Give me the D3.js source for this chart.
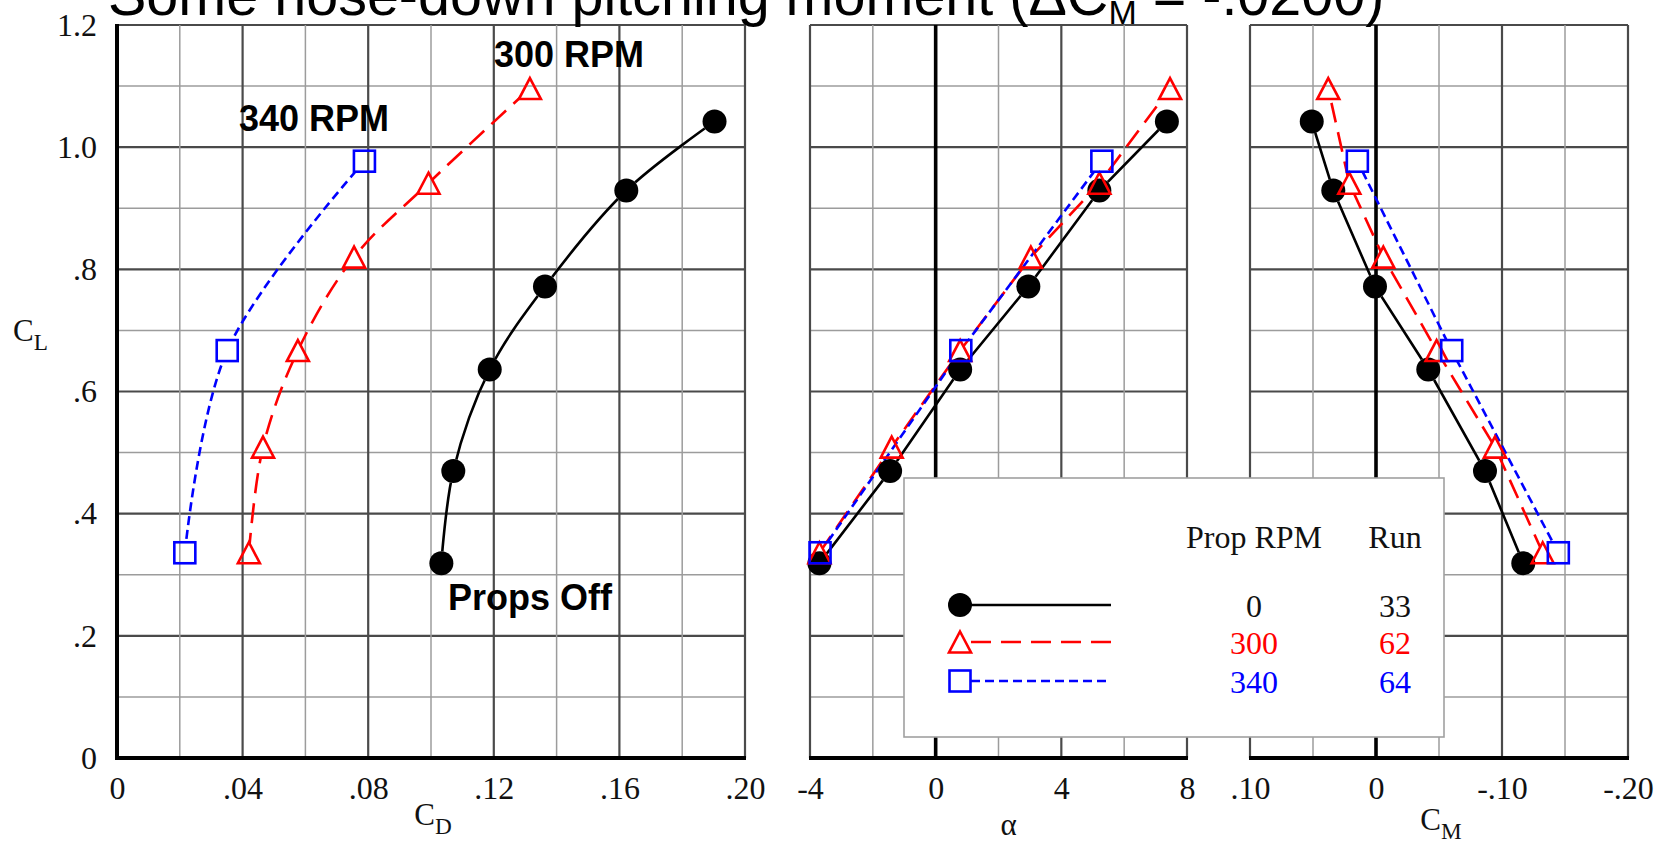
<!DOCTYPE html>
<html>
<head>
<meta charset="utf-8">
<script src="https://cdn.jsdelivr.net/npm/d3@7"></script>
<style>
body { margin: 0; background: #fff; }
svg { display: block; }
</style>
</head>
<body>
<svg id="chart" width="1657" height="843"></svg>
<script>
// DATA
// Props off, run 33
var CL_0    = [0.319, 0.470, 0.636, 0.772, 0.929, 1.042];
var CD_0    = [0.1033, 0.1071, 0.1187, 0.1363, 0.1622, 0.1903];
var ALPHA_0 = [-3.70, -1.45, 0.78, 2.95, 5.21, 7.36];
var CM_0    = [-0.1169, -0.0865, -0.0415, 0.0008, 0.0339, 0.0510];

// 300 RPM, run 62
var CL_300    = [0.336, 0.509, 0.667, 0.820, 0.941, 1.096];
var CD_300    = [0.0420, 0.0465, 0.0576, 0.0755, 0.0992, 0.1315];
var ALPHA_300 = [-3.70, -1.40, 0.78, 3.03, 5.21, 7.46];
var CM_300    = [-0.1323, -0.0944, -0.0481, -0.0058, 0.0212, 0.0379];

// 340 RPM, run 64
var CL_340    = [0.336, 0.667, 0.977];
var CD_340    = [0.0216, 0.0351, 0.0788];
var ALPHA_340 = [-3.68, 0.80, 5.29];
var CM_340    = [-0.1447, -0.0601, 0.0148];

var RPM_LABELS = ["0", "300", "340"];
var RUN_LABELS = ["33", "62", "64"];

// tick labels
var CL_TICKS = [0, 0.2, 0.4, 0.6, 0.8, 1.0, 1.2];
var CL_TICK_LABELS = ["0", ".2", ".4", ".6", ".8", "1.0", "1.2"];
var CD_TICKS = [0, 0.04, 0.08, 0.12, 0.16, 0.20];
var CD_TICK_LABELS = ["0", ".04", ".08", ".12", ".16", ".20"];
var ALPHA_TICKS = [-4, 0, 4, 8];
var ALPHA_TICK_LABELS = ["-4", "0", "4", "8"];
var CM_TICKS = [0.10, 0, -0.10, -0.20];
var CM_TICK_LABELS = [".10", "0", "-.10", "-.20"];


// CONSTANTS
var W = 1657;
var H = 843;
var SERIF = "'Liberation Serif', 'Times New Roman', serif";
var SANS = "'Liberation Sans', Arial, sans-serif";
var RED = "#ff0000";
var BLUE = "#0000ff";
var MINOR = "#9c9c9c";
var MAJOR = "#4a4a4a";
var LINE_W = 2.6;


// scales
var y = d3.scaleLinear().domain([0, 1.2]).range([758, 25]);
var xCD = d3.scaleLinear().domain([0, 0.2]).range([117, 745]);
var xA = d3.scaleLinear().domain([-4, 8]).range([810, 1187]);
var xCM = d3.scaleLinear().domain([0.1, -0.2]).range([1250, 1628]);

var SERIES = [
    {color: "#000", marker: "circle", dash: null, cl: CL_0, cd: CD_0, alpha: ALPHA_0, cm: CM_0},
    {color: RED, marker: "triangle", dash: "20,10", cl: CL_300, cd: CD_300, alpha: ALPHA_300, cm: CM_300},
    {color: BLUE, marker: "square", dash: "9,5", cl: CL_340, cd: CD_340, alpha: ALPHA_340, cm: CM_340},
];

var PANELS = [
    {key: "cd", x: xCD, step: 0.02, major: 2, zero: false, curve: d3.curveCatmullRom.alpha(0.5),
        ticks: CD_TICKS, labels: CD_TICK_LABELS},
    {key: "alpha", x: xA, step: 2, major: 2, zero: true, curve: d3.curveLinear,
        ticks: ALPHA_TICKS, labels: ALPHA_TICK_LABELS},
    {key: "cm", x: xCM, step: 0.05, major: 2, zero: true, curve: d3.curveLinear,
        ticks: CM_TICKS, labels: CM_TICK_LABELS},
];


var svg = d3.select("#chart");
svg.append("rect").attr("width", W).attr("height", H).attr("fill", "#fff");
var defs = svg.append("defs");


function drawMarker(parent, type, cx, cy, color, knock) {
    if (type === "circle") {
        parent.append("circle")
            .attr("cx", cx)
            .attr("cy", cy)
            .attr("r", 12)
            .attr("fill", knock ? "#000" : color);
    }
    else if (type === "triangle") {
        parent.append("path")
            .attr("d", "M" + cx + "," + (cy - 10.5) + "L" + (cx + 11) + "," + (cy + 10.5) +
                "L" + (cx - 11) + "," + (cy + 10.5) + "Z")
            .attr("fill", knock ? "#000" : "none")
            .attr("stroke", knock ? "none" : color)
            .attr("stroke-width", 2.6)
            .attr("stroke-linejoin", "miter");
    }
    else {
        parent.append("rect")
            .attr("x", cx - 10.5)
            .attr("y", cy - 10.5)
            .attr("width", 21)
            .attr("height", 21)
            .attr("fill", knock ? "#000" : "none")
            .attr("stroke", knock ? "none" : color)
            .attr("stroke-width", 2.6);
    }
}


// grid
function drawGrid(panel) {
    var x = panel.x;
    var d = x.domain();
    var lo = Math.min(d[0], d[1]);
    var hi = Math.max(d[0], d[1]);
    var n = Math.round((hi - lo) / panel.step);
    var g = svg.append("g");
    // horizontal lines every 0.1 of CL
    for (var j = 1; j <= 12; j++) {
        var major = j % 2 === 0;
        g.append("line")
            .attr("x1", d3.min(x.range()))
            .attr("x2", d3.max(x.range()))
            .attr("y1", y(j / 10))
            .attr("y2", y(j / 10))
            .attr("stroke", major ? MAJOR : MINOR)
            .attr("stroke-width", major ? 2.2 : 1.5);
    }
    for (var i = 0; i <= n; i++) {
        var v = lo + i * panel.step;
        var k = Math.round(v / panel.step);
        var isMajor = k % panel.major === 0;
        var isZero = panel.zero && k === 0;
        g.append("line")
            .attr("x1", x(v))
            .attr("x2", x(v))
            .attr("y1", y(0))
            .attr("y2", y(1.2))
            .attr("stroke", isZero ? "#000" : (isMajor ? MAJOR : MINOR))
            .attr("stroke-width", isZero ? 3.6 : (isMajor ? 2.2 : 1.5));
    }
    // bottom axis
    g.append("line")
        .attr("x1", d3.min(x.range()) - 1)
        .attr("x2", d3.max(x.range()) + 1)
        .attr("y1", y(0))
        .attr("y2", y(0))
        .attr("stroke", "#000")
        .attr("stroke-width", 4.2);

    var axis = svg.append("g")
        .attr("transform", "translate(0," + y(0) + ")")
        .call(d3.axisBottom(x)
            .tickValues(panel.ticks)
            .tickFormat(function(t, i) { return panel.labels[i]; })
            .tickSize(0)
            .tickPadding(18));
    axis.select(".domain").remove();
    axis.selectAll("text")
        .attr("font-family", SERIF)
        .attr("font-size", 32)
        .attr("fill", "#111");
}

PANELS.forEach(drawGrid);

// left axis
svg.append("line")
    .attr("x1", xCD(0))
    .attr("x2", xCD(0))
    .attr("y1", y(1.2) - 1)
    .attr("y2", y(0) + 2)
    .attr("stroke", "#000")
    .attr("stroke-width", 4);

var yAxis = svg.append("g")
    .attr("transform", "translate(" + xCD(0) + ",0)")
    .call(d3.axisLeft(y)
        .tickValues(CL_TICKS)
        .tickFormat(function(t, i) { return CL_TICK_LABELS[i]; })
        .tickSize(0)
        .tickPadding(20));
yAxis.select(".domain").remove();
yAxis.selectAll("text")
    .attr("font-family", SERIF)
    .attr("font-size", 32)
    .attr("fill", "#111");


// axis titles
function subLabel(x, yy, main, sub, size, anchor) {
    var t = svg.append("text")
        .attr("x", x)
        .attr("y", yy)
        .attr("font-family", SERIF)
        .attr("font-size", size)
        .attr("fill", "#111")
        .attr("text-anchor", anchor || "start");
    t.append("tspan").text(main);
    if (sub) {
        t.append("tspan").attr("font-size", size * 0.75).attr("dy", 9).text(sub);
    }
    return t;
}

subLabel(13, 341, "C", "L", 31);
subLabel(xCD(0.1) + 2, 825, "C", "D", 31, "middle");
subLabel(xA(2) + 10, 835, "α", null, 31, "middle");
subLabel(xCM(-0.05) + 2, 830, "C", "M", 31, "middle");


// title (cropped at the top like the reference)
var title = svg.append("text")
    .attr("x", 108)
    .attr("y", 15)
    .attr("font-family", SANS)
    .attr("font-size", 57.5)
    .attr("fill", "#000");
title.append("tspan").text("Some nose-down pitching moment (ΔC");
title.append("tspan").attr("font-size", 34).attr("dy", 9).text("M");
title.append("tspan").attr("dy", -9).text(" = -.0200)");


// data lines and markers
PANELS.forEach(function(panel, pi) {
    var line = d3.line().curve(panel.curve);
    SERIES.forEach(function(s, si) {
        var pts = s[panel.key].map(function(v, i) {
            return [panel.x(v), y(s.cl[i])];
        });
        var id = "knock-" + pi + "-" + si;
        var mask = defs.append("mask")
            .attr("id", id)
            .attr("maskUnits", "userSpaceOnUse")
            .attr("x", 0)
            .attr("y", 0)
            .attr("width", W)
            .attr("height", H);
        mask.append("rect").attr("width", W).attr("height", H).attr("fill", "#fff");
        pts.forEach(function(p) {
            drawMarker(mask, s.marker, p[0], p[1], "#000", true);
        });
        var path = svg.append("path")
            .attr("d", line(pts))
            .attr("fill", "none")
            .attr("stroke", s.color)
            .attr("stroke-width", LINE_W)
            .attr("mask", "url(#" + id + ")");
        if (s.dash) {
            path.attr("stroke-dasharray", s.dash);
        }
    });
    SERIES.forEach(function(s) {
        s[panel.key].forEach(function(v, i) {
            drawMarker(svg, s.marker, panel.x(v), y(s.cl[i]), s.color, false);
        });
    });
});


// curve annotations
function note(x, yy, text) {
    svg.append("text")
        .attr("x", x)
        .attr("y", yy)
        .attr("font-family", SANS)
        .attr("font-weight", "bold")
        .attr("font-size", 36)
        .attr("fill", "#000")
        .text(text);
}
note(494, 67, "300 RPM");
note(239, 131, "340 RPM");
note(448, 610, "Props Off");


// legend
var legend = svg.append("g");
legend.append("rect")
    .attr("x", 904)
    .attr("y", 478)
    .attr("width", 540)
    .attr("height", 259)
    .attr("fill", "#fff")
    .attr("stroke", "#a0a0a0")
    .attr("stroke-width", 1.6);

function legendText(x, yy, text, color) {
    legend.append("text")
        .attr("x", x)
        .attr("y", yy)
        .attr("text-anchor", "middle")
        .attr("font-family", SERIF)
        .attr("font-size", 32)
        .attr("fill", color)
        .text(text);
}
legendText(1254, 548, "Prop RPM", "#111");
legendText(1395, 548, "Run", "#111");

var ROW_Y = [605, 642, 681];
SERIES.forEach(function(s, i) {
    var ry = ROW_Y[i];
    var l = legend.append("line")
        .attr("x1", 960 + 11)
        .attr("x2", 1111)
        .attr("y1", ry)
        .attr("y2", ry)
        .attr("stroke", s.color)
        .attr("stroke-width", LINE_W);
    if (s.dash) {
        l.attr("stroke-dasharray", s.dash);
    }
    drawMarker(legend, s.marker, 960, ry, s.color, false);
    legendText(1254, ry + 12, RPM_LABELS[i], i === 0 ? "#111" : s.color);
    legendText(1395, ry + 12, RUN_LABELS[i], i === 0 ? "#111" : s.color);
});
</script>
</body>
</html>
